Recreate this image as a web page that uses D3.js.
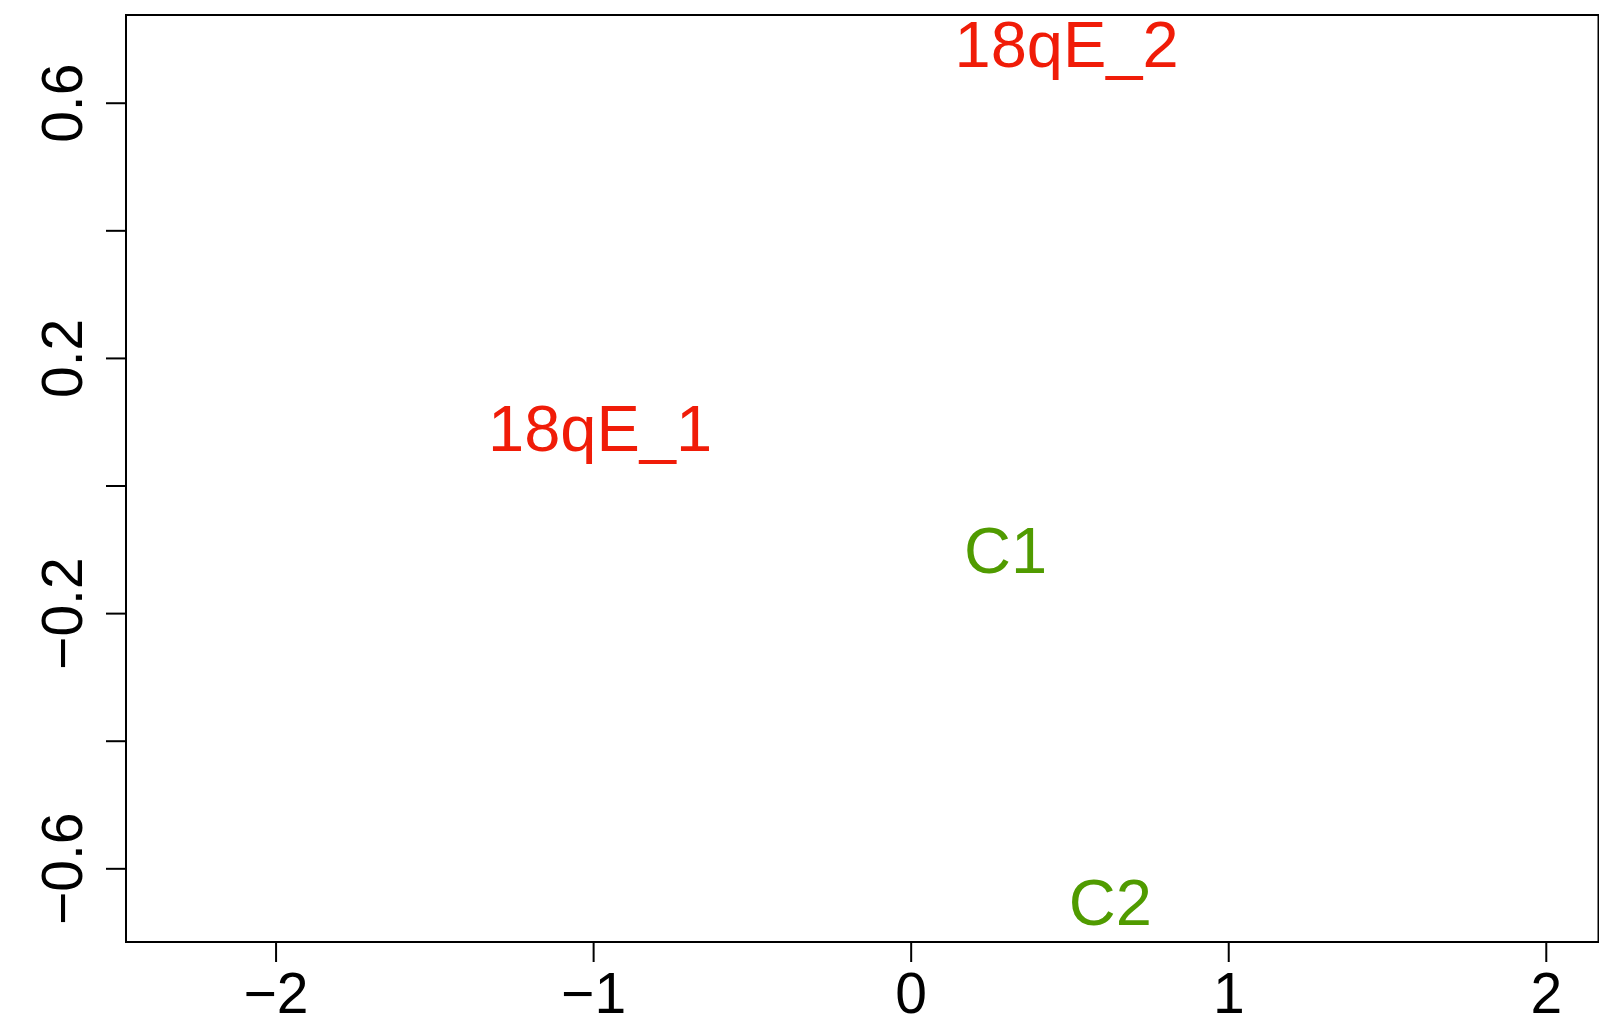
<!DOCTYPE html>
<html>
<head>
	<meta charset="utf-8">
	<title>MDS plot</title>
	<script type="text/javascript" src="https://cdn.jsdelivr.net/npm/d3@7"></script>
	<style>
		body {
			margin: 0;
			background: #fff;
			font-family: "Liberation Sans", Arial, Helvetica, sans-serif;
		}
	</style>
</head>

<body>

	<div id="chart"></div>

	<script>

		// data
		const samples = ["18qE_2", "18qE_1", "C1", "C2"];
		const dim1 = [0.491, -0.978, 0.299, 0.629];
		const dim2 = [0.693, 0.091, -0.100, -0.652];
		const groups = ["18qE", "18qE", "C", "C"];

		const xTicks = [-2, -1, 0, 1, 2];
		const yTicks = [-0.6, -0.4, -0.2, 0, 0.2, 0.4, 0.6];
		const yLabelled = [-0.6, -0.2, 0.2, 0.6];

		const width = 1599;
		const height = 1023;
		const margin = {top: 15, right: 0.5, bottom: 81, left: 126};

		const color = d3.scaleOrdinal(["18qE", "C"], ["#f01c08", "#509b00"]);

		const x = d3.scaleLinear()
			.domain([-2.471, 2.166])
			.range([margin.left, width - margin.right]);

		const y = d3.scaleLinear()
			.domain([-0.7155, 0.7375])
			.range([height - margin.bottom, margin.top]);

		const svg = d3.select("#chart")
			.append("svg")
			.attr("width", width)
			.attr("height", height)
			.attr("font-family", "'Liberation Sans', Arial, Helvetica, sans-serif");

		// x axis
		const gx = svg.append("g")
			.attr("transform", `translate(0,${height - margin.bottom})`)
			.call(d3.axisBottom(x)
				.tickValues(xTicks)
				.tickFormat(d3.format("d"))
				.tickSize(20)
				.tickPadding(11)
				.tickSizeOuter(0));
		gx.select(".domain").remove();
		gx.selectAll(".tick line").attr("stroke", "#000").attr("stroke-width", 2);
		gx.selectAll(".tick text").attr("fill", "#000").attr("font-size", 57);

		// y axis (R style: rotated labels, some skipped)
		const gy = svg.append("g")
			.attr("transform", `translate(${margin.left},0)`)
			.call(d3.axisLeft(y)
				.tickValues(yTicks)
				.tickFormat(d => yLabelled.some(v => Math.abs(v - d) < 1e-9) ? d3.format(".1f")(d) : "")
				.tickSize(20)
				.tickSizeOuter(0));
		gy.select(".domain").remove();
		gy.selectAll(".tick line").attr("stroke", "#000").attr("stroke-width", 2);
		gy.selectAll(".tick text")
			.attr("fill", "#000")
			.attr("font-size", 57)
			.attr("x", null)
			.attr("dy", null)
			.attr("text-anchor", "middle")
			.attr("transform", "translate(-44,0) rotate(-90)");

		// box
		svg.append("rect")
			.attr("x", margin.left)
			.attr("y", margin.top)
			.attr("width", width - margin.right - margin.left)
			.attr("height", height - margin.bottom - margin.top)
			.attr("fill", "none")
			.attr("stroke", "#000")
			.attr("stroke-width", 2);

		// sample labels
		svg.append("g")
			.selectAll("text")
			.data(samples)
			.join("text")
			.attr("x", (d, i) => x(dim1[i]))
			.attr("y", (d, i) => y(dim2[i]))
			.attr("dy", "0.36em")
			.attr("text-anchor", "middle")
			.attr("font-size", 65)
			.attr("fill", (d, i) => color(groups[i]))
			.text(d => d);

	</script>

</body>

</html>
